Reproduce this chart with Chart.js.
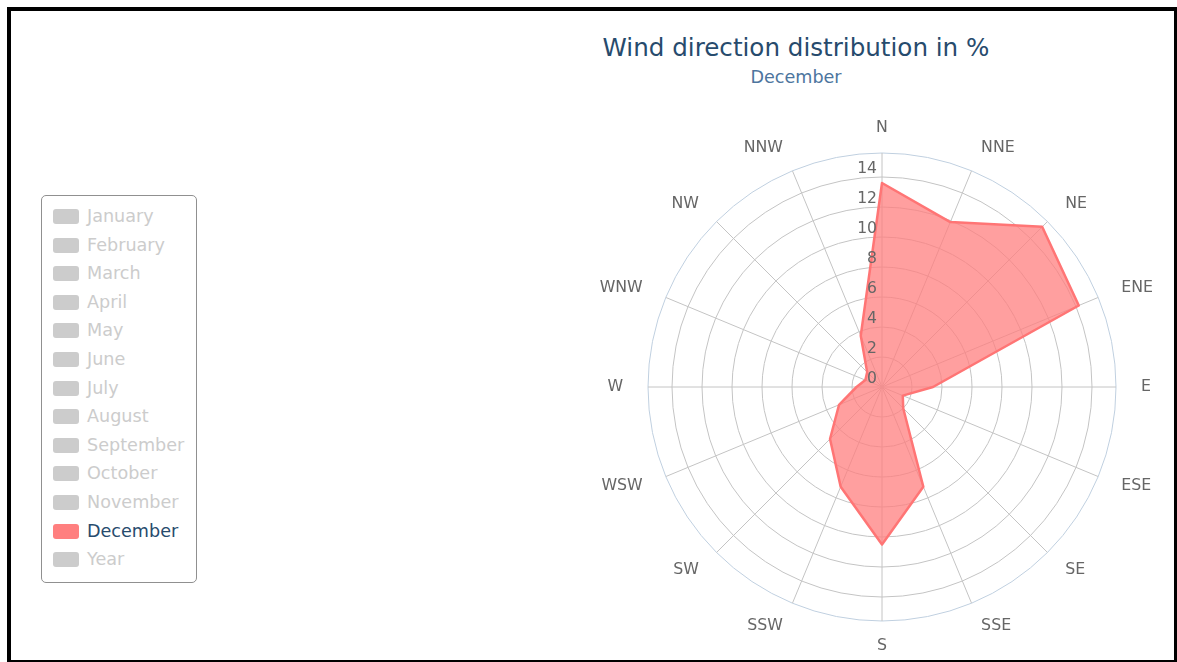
<!DOCTYPE html>
<html>
<head>
<meta charset="utf-8">
<title>Wind direction distribution in %</title>
<script src="https://cdn.jsdelivr.net/npm/chart.js@4.4.0/dist/chart.umd.min.js"></script>
<style>
  html, body { margin: 0; padding: 0; background: #fff; overflow: hidden; }
  body { width: 1177px; height: 662px; position: relative; font-family: "DejaVu Sans", sans-serif; }
  #frame {
    position: absolute; left: 7px; top: 7px; width: 1163px; height: 649px;
    border-style: solid; border-color: #000; border-width: 4px 3px 3px 4px;
  }
  #title, #subtitle { position: absolute; left: 496px; width: 600px; text-align: center; white-space: nowrap; }
  #title { top: 34px; line-height: 28px; font-size: 24.6px; color: #274b6d; }
  #subtitle { top: 67px; line-height: 20px; font-size: 17.6px; color: #4d759e; }
  #legend {
    position: absolute; left: 41px; top: 195px; width: 156px; height: 388px;
    box-sizing: border-box; border: 1px solid #909090; border-radius: 5px;
    padding-top: 6px; background: #fff;
  }
  .item { position: relative; height: 28.6px; line-height: 28.6px; padding-left: 45px; font-size: 17.6px; color: #cccccc; white-space: nowrap; }
  .item .sym { position: absolute; left: 11px; top: 7px; width: 26px; height: 15px; border-radius: 3px; background: #cccccc; }
  .item.on { color: #274b6d; }
  .item.on .sym { background: #ff7f7f; }
  #chartBox { position: absolute; left: 588px; top: 113px; width: 588px; height: 548px; }
</style>
</head>
<body>
<div id="frame"></div>
<div id="title">Wind direction distribution in %</div>
<div id="subtitle">December</div>
<div id="legend"></div>
<div id="chartBox"><canvas id="windRose"></canvas></div>

<script>
// Compass sectors, clockwise from north
const directions = ['N', 'NNE', 'NE', 'ENE', 'E', 'ESE', 'SE', 'SSE',
                    'S', 'SSW', 'SW', 'WSW', 'W', 'WNW', 'NW', 'NNW'];

// Share of the time (%) the wind came from each sector in December
const decemberShare = [13.6, 11.9, 15.1, 14.2, 3.4, 1.5, 2.0, 7.2,
                       10.5, 7.2, 4.9, 3.1, 1.7, 1.2, 1.4, 3.7];

// Radial axis
const tickValues = [0, 2, 4, 6, 8, 10, 12, 14];
const axisMax = 15.6;

// Legend entries (only December is switched on)
const months = ['January', 'February', 'March', 'April', 'May', 'June', 'July',
                'August', 'September', 'October', 'November', 'December', 'Year'];
const activeMonth = 'December';

// Build the legend
const legend = document.getElementById('legend');
months.forEach(m => {
    const item = document.createElement('div');
    item.className = 'item' + (m === activeMonth ? ' on' : '');
    const sym = document.createElement('span');
    sym.className = 'sym';
    item.appendChild(sym);
    item.appendChild(document.createTextNode(m));
    legend.appendChild(item);
});

// Tick labels sit left of the north axis, direction labels around the rim
const roseText = {
    id: 'roseText',
    afterDraw(chart) {
        const r = chart.scales.r;
        const ctx = chart.ctx;
        ctx.save();
        ctx.fillStyle = '#666666';

        ctx.font = '15.6px "DejaVu Sans"';
        ctx.textAlign = 'right';
        ctx.textBaseline = 'alphabetic';
        tickValues.forEach(v => {
            const p = r.getPointPositionForValue(0, v);
            ctx.fillText(String(v), p.x - 5, p.y - 4);
        });

        ctx.font = '15.8px "DejaVu Sans"';
        ctx.textBaseline = 'middle';
        directions.forEach((d, i) => {
            const p = r.getPointPosition(i, r.drawingArea + 25);
            const dx = p.x - r.xCenter;
            ctx.textAlign = Math.abs(dx) < 1 ? 'center' : (dx > 0 ? 'left' : 'right');
            ctx.fillText(d, p.x, p.y);
        });
        ctx.restore();
    }
};

const ctx = document.getElementById('windRose').getContext('2d');
const windRose = new Chart(ctx, {
    type: 'radar',
    data: {
        labels: directions,
        datasets: [{
            label: activeMonth,
            data: decemberShare,
            backgroundColor: 'rgba(255, 127, 127, 0.75)',
            borderColor: '#ff7575',
            borderWidth: 2.5,
            borderJoinStyle: 'round',
            pointRadius: 0,
            pointHoverRadius: 0,
            fill: 'origin'
        }]
    },
    options: {
        responsive: true,
        maintainAspectRatio: false,
        animation: false,
        layout: { padding: { left: 60, right: 60, top: 40, bottom: 40 } },
        plugins: {
            legend: { display: false },
            tooltip: { enabled: false }
        },
        scales: {
            r: {
                min: 0,
                max: axisMax,
                afterBuildTicks: scale => {
                    scale.ticks = tickValues.concat([axisMax]).map(v => ({ value: v }));
                },
                ticks: { display: false },
                pointLabels: { display: false },
                grid: {
                    circular: true,
                    lineWidth: 1,
                    color: c => (c.tick && c.tick.value === axisMax) ? '#c0d0e0' : '#c4c4c4'
                },
                angleLines: { color: '#c4c4c4', lineWidth: 1 }
            }
        }
    },
    plugins: [roseText]
});
</script>
</body>
</html>
